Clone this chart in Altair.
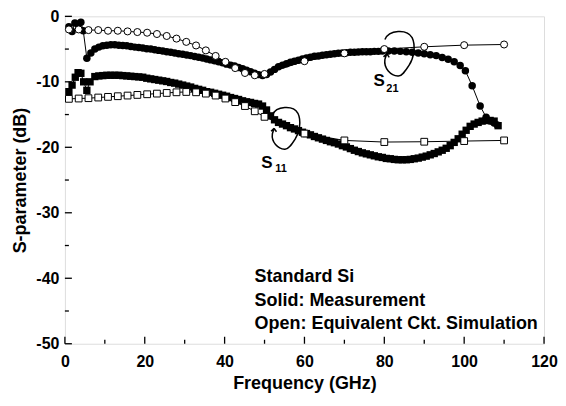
import altair as alt
import pandas as pd

# ---------------- data ----------------
# equivalent-circuit simulation (open symbols)
sim_f = [1, 3.45, 5.9, 8.35, 10.8, 13.25, 15.7, 18.15, 20.6, 23.05, 25.5, 27.95,
         30.4, 32.85, 35.3, 37.75, 40.2, 42.65, 45.1, 47.55, 50,
         60, 70, 80, 90, 100, 110]
s21_sim_db = [-2.0, -2.0, -2.1, -2.1, -2.2, -2.2, -2.3, -2.4, -2.5, -2.7, -3.0, -3.4,
              -3.9, -4.45, -5.2, -6.05, -6.95, -7.9, -8.65, -9.0, -8.8,
              -6.85, -5.65, -5.0, -4.65, -4.4, -4.3]
s11_sim_db = [-12.6, -12.55, -12.5, -12.4, -12.3, -12.2, -12.1, -12.0, -11.9, -11.8, -11.7, -11.6,
              -11.55, -11.6, -11.8, -12.1, -12.55, -13.1, -13.7, -14.5, -15.35,
              -17.9, -18.95, -19.2, -19.15, -19.05, -18.95]

# measurement (solid symbols)
s21_meas_f = [1, 1.8, 2.5, 3.3, 4, 4.6,
              5.5, 6.5, 7.5, 8.5, 9.5, 10.5, 11.5, 12.5, 13.5, 14.5, 15.5, 16.5, 17.5, 18.5, 19.5,
              20.5, 21.5, 22.5, 23.5, 24.5, 25.5, 26.5, 27.5, 28.5, 29.5, 30.5, 31.5, 32.5, 33.5, 34.5,
              35.5, 36.5, 37.5, 38.5, 39.5, 40.5, 41.5, 42.5, 43.5, 44.5, 45.5, 46.5, 47.5, 48.5, 49.5,
              50.5, 51.5, 52.5, 53.5, 54.5, 55.5, 56.5, 57.5, 58.5, 59.5, 60.5, 61.5, 62.5, 63.5, 64.5,
              65.5, 66.5, 67.5, 68.5, 69.5, 70.5, 71.5, 72.5, 73.5, 74.5, 75.5, 76.5, 77.5, 78.5, 79.5,
              81, 82.5, 84, 85.5, 87, 88.5, 90, 91.5, 93, 94.5, 96, 97.5, 99, 100.3, 102, 104,
              105.5, 106.5, 107.5, 108.3]
s21_meas_db = [-1.6, -2.3, -1.0, -1.3, -0.9, -2.2,
               -6.4, -5.6, -5.0, -4.7, -4.5, -4.4, -4.35, -4.35, -4.4, -4.45, -4.5, -4.6, -4.7, -4.75, -4.85,
               -4.95, -5.0, -5.1, -5.2, -5.3, -5.4, -5.5, -5.6, -5.7, -5.8, -5.9, -6.0, -6.15, -6.25, -6.35,
               -6.5, -6.65, -6.8, -6.95, -7.1, -7.3, -7.45, -7.6, -7.8, -8.0, -8.25, -8.45, -8.7, -8.9, -9.05,
               -8.9, -8.5, -8.1, -7.7, -7.45, -7.25, -7.0, -6.85, -6.7, -6.5, -6.35, -6.25, -6.1, -6.05, -5.95,
               -5.85, -5.8, -5.7, -5.65, -5.6, -5.55, -5.5, -5.5, -5.45, -5.4, -5.4, -5.4, -5.35, -5.35, -5.3,
               -5.3, -5.3, -5.35, -5.4, -5.5, -5.6, -5.7, -5.85, -6.0, -6.3, -6.55, -6.95, -7.5, -8.3, -10.6, -13.7,
               -15.4, -16.0, -16.3, -16.6]

s11_meas_f = [1, 1.8, 2.6, 3.3, 4, 4.7, 5.5, 6.3,
              7.5, 8.5, 9.5, 10.5, 11.5, 12.5, 13.5, 14.5, 15.5, 16.5, 17.5, 18.5, 19.5,
              20.5, 21.5, 22.5, 23.5, 24.5, 25.5, 26.5, 27.5, 28.5, 29.5, 30.5, 31.5, 32.5, 33.5, 34.5,
              35.5, 36.5, 37.5, 38.5, 39.5, 40.5, 41.5, 42.5, 43.5, 44.5, 45.5, 46.5, 47.5, 48.5, 49.5,
              50.5, 51.5, 52.5, 53.5, 54.5, 55.5, 56.5, 57.5, 58.5, 59.5, 60.5, 61.5, 62.5, 63.5, 64.5,
              65.5, 66.5, 67.5, 68.5, 69.5, 70.5, 71.5, 72.5, 73.5, 74.5, 75.5, 76.5, 77.5, 78.5, 79.5,
              80.5, 81.5, 82.5, 83.5, 84.5, 85.5, 86.5, 87.5, 88.5, 89.5, 90.5, 91.5, 92.5, 93.5, 94.5,
              95.5, 96.5, 97.5, 98.5, 99.5, 100.5, 101.5, 102.5, 103.5, 104.5, 105.5, 106.5, 107.5,
              108.5]
s11_meas_db = [-11.5, -10.5, -9.3, -8.6, -8.7, -10.0, -11.3, -10.0,
               -9.2, -9.1, -9.05, -9.0, -9.0, -9.0, -9.0, -9.05, -9.1, -9.15, -9.2, -9.25, -9.3,
               -9.45, -9.55, -9.65, -9.75, -9.85, -9.95, -10.1, -10.2, -10.35, -10.5, -10.65, -10.8, -11.0, -11.15, -11.3,
               -11.5, -11.6, -11.75, -11.9, -12.05, -12.2, -12.4, -12.55, -12.7, -12.9, -13.05, -13.15, -13.3, -13.4, -13.7,
               -14.3, -15.2, -15.8, -16.2, -16.45, -16.7, -17.0, -17.2, -17.45, -17.7, -17.9, -18.1, -18.35, -18.55, -18.75,
               -18.95, -19.15, -19.3, -19.5, -19.75, -19.95, -20.2, -20.45, -20.65, -20.85, -21.0, -21.15, -21.3, -21.45, -21.55,
               -21.7, -21.75, -21.85, -21.9, -21.9, -21.9, -21.85, -21.75, -21.65, -21.5, -21.35, -21.15, -20.95, -20.7, -20.45,
               -20.15, -19.75, -19.25, -18.7, -18.0, -17.4, -16.8, -16.45, -16.2, -16.0, -15.9, -15.9, -16.0,
               -16.7]

x_major = [0, 20, 40, 60, 80, 100, 120]
x_minor = [10, 30, 50, 70, 90, 110]
y_major = [0, -10, -20, -30, -40, -50]
y_minor = [-5, -15, -25, -35, -45]

note_lines = ["Standard Si", "Solid: Measurement", "Open: Equivalent Ckt. Simulation"]

# ---------------- layout / style ----------------
W, H = 480, 328
FONT = "Liberation Sans"
note_x = 47.5
note_y = [-40.5, -44.2, -47.8]

LOOP = ("M-0.62,-0.62 C-0.45,-1.05 0.35,-1.1 0.57,-0.7 C0.74,-0.35 0.64,0.2 0.44,0.5 "
        "C0.28,0.75 0.12,1.0 -0.05,0.98 C-0.36,0.95 -0.68,0.65 -0.62,0.25 L-0.54,0.0 "
        "M-0.54,0.0 L-0.68,0.14 M-0.54,0.0 L-0.43,0.16")


def frame(f, db):
    return pd.DataFrame({"f": f, "db": db})


x_axis = alt.Axis(values=x_major, ticks=False, tickSize=0, domain=False, grid=False,
                  labelFont=FONT, labelFontSize=16, labelFontWeight="bold", labelColor="black",
                  labelPadding=10, labelFlush=False, labelOverlap=False,
                  titleFont=FONT, titleFontSize=18, titleFontWeight="bold", titleColor="black",
                  titlePadding=5)
y_axis = alt.Axis(values=y_major, ticks=False, tickSize=0, domain=False, grid=False,
                  labelExpr="datum.value == 0 ? '0' : '-' + abs(datum.value)",
                  labelFont=FONT, labelFontSize=16, labelFontWeight="bold", labelColor="black",
                  labelPadding=6, labelFlush=False, labelOverlap=False,
                  titleFont=FONT, titleFontSize=18, titleFontWeight="bold", titleColor="black",
                  titlePadding=6)

X = alt.X("f:Q", scale=alt.Scale(domain=[0, 120], nice=False, zero=False), axis=x_axis,
          title="Frequency (GHz)")
Y = alt.Y("db:Q", scale=alt.Scale(domain=[-50, 0], nice=False, zero=False), axis=y_axis,
          title="S-parameter (dB)")

s21m = frame(s21_meas_f, s21_meas_db)
s11m = frame(s11_meas_f, s11_meas_db)
s21s = frame(sim_f, s21_sim_db)
s11s = frame(sim_f, s11_sim_db)

layers = []
for d in (s21m, s11m, s21s, s11s):
    layers.append(alt.Chart(d).mark_line(color="black", strokeWidth=1).encode(x=X, y=Y))

layers.append(alt.Chart(s21m).mark_point(shape="circle", filled=True, color="black", size=56,
                                         opacity=1).encode(x=X, y=Y))
layers.append(alt.Chart(s11m).mark_point(shape="square", filled=True, color="black", size=54,
                                         opacity=1).encode(x=X, y=Y))
layers.append(alt.Chart(s21s).mark_point(shape="circle", filled=True, fill="white", stroke="black",
                                         strokeWidth=1, size=50, opacity=1).encode(x=X, y=Y))
layers.append(alt.Chart(s11s).mark_point(shape="square", filled=True, fill="white", stroke="black",
                                         strokeWidth=1, size=46, opacity=1).encode(x=X, y=Y))

# inward ticks
layers.append(alt.Chart(pd.DataFrame({"f": x_major})).mark_rule(color="black", strokeWidth=1.3)
              .encode(x=X, y=alt.value(H), y2=alt.value(H - 7)))
layers.append(alt.Chart(pd.DataFrame({"f": x_minor})).mark_rule(color="black", strokeWidth=1.3)
              .encode(x=X, y=alt.value(H), y2=alt.value(H - 4)))
layers.append(alt.Chart(pd.DataFrame({"db": y_major})).mark_rule(color="black", strokeWidth=1.3)
              .encode(y=Y, x=alt.value(0), x2=alt.value(7)))
layers.append(alt.Chart(pd.DataFrame({"db": y_minor})).mark_rule(color="black", strokeWidth=1.3)
              .encode(y=Y, x=alt.value(0), x2=alt.value(4)))

# loops (curly arrows)
layers.append(alt.Chart(pd.DataFrame({"f": [55.3], "db": [-17.1]}))
              .mark_point(shape=LOOP, filled=False, color="black", strokeWidth=1.5, size=1850, opacity=1)
              .encode(x=X, y=Y))
layers.append(alt.Chart(pd.DataFrame({"f": [83.7], "db": [-5.7]}))
              .mark_point(shape=LOOP, filled=False, color="black", strokeWidth=1.5, size=2100, opacity=1)
              .encode(x=X, y=Y))


def label(txt, f, db, size):
    return (alt.Chart(pd.DataFrame({"f": [f], "db": [db], "t": [txt]}))
            .mark_text(align="left", baseline="alphabetic", font=FONT, fontSize=size,
                       fontWeight="bold", color="black")
            .encode(x=X, y=Y, text="t:N"))


layers.append(label("S", 49.2, -23.2, 17))
layers.append(label("11", 52.7, -23.8, 11))
layers.append(label("S", 77.3, -10.7, 17))
layers.append(label("21", 80.5, -11.5, 11))

for line, yy in zip(note_lines, note_y):
    layers.append(label(line, note_x, yy, 18))

chart = (alt.layer(*layers)
         .properties(width=W, height=H,
                     autosize=alt.AutoSizeParams(type="none"),
                     padding={"left": 57, "top": 8, "right": 14, "bottom": 50})
         .configure_view(stroke="black", strokeWidth=1.5)
         .configure(background="white"))

chart.save("out.html", embed_options={"renderer": "svg", "actions": False})
